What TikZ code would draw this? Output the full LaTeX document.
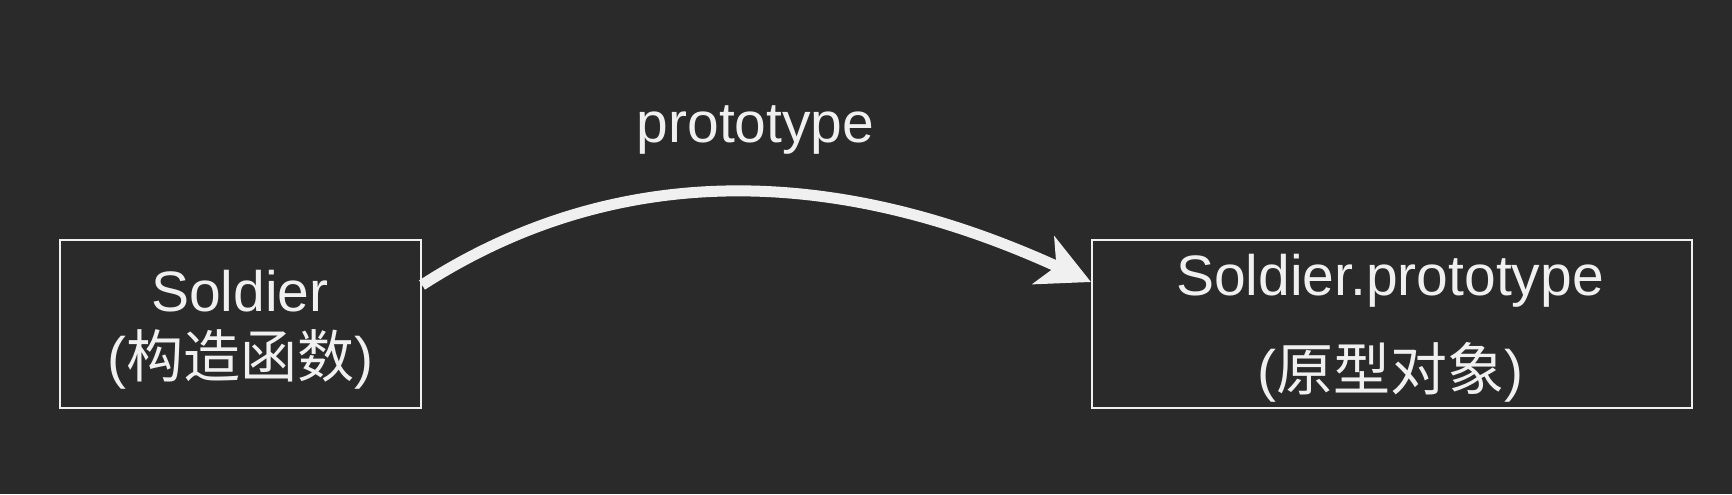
\documentclass[tikz,border=0pt]{standalone}
\usepackage{fontspec}
\setmainfont{Liberation Sans}
\newfontfamily\cjk{Noto Sans CJK SC}
\usetikzlibrary{arrows.meta}
\definecolor{bg}{HTML}{2A2A2A}
\definecolor{fg}{HTML}{F0F0F0}
\begin{document}
\begin{tikzpicture}[x=0.5pt,y=-0.5pt,
  box/.style={draw=fg, line width=1pt, inner sep=0pt, minimum height=84pt},
  lbl/.style={text=fg, inner sep=0pt, anchor=base, font=\fontsize{28.5pt}{34pt}\selectfont},
  conn/.style={draw=fg, line width=5.5pt, -{Stealth[length=26pt, width=26pt, inset=7pt]}}]
\fill[bg] (0,0) rectangle (1732,494);
\useasboundingbox (0,0) rectangle (1732,494);
\node[box, minimum width=180.5pt] (ctor) at (240.5,324) {};
\node[box, minimum width=300pt] (proto) at (1392,324) {};
\node[lbl] (ctorA) at (240,311) {Soldier};
\node[lbl] (ctorB) at (240,377) {({\cjk 构造函数})};
\node[lbl] (protoA) at (1390,295) {Soldier.prototype};
\node[lbl] (protoB) at (1390,390) {({\cjk 原型对象})};
\coordinate (s) at (ctor.east |- 0,285);
\coordinate (e) at (proto.west |- 0,282);
\draw[conn] (s) .. controls (606,166.5) and (822,159) .. (e);
\node[lbl] (edgelbl) at (755.5,142) {prototype};
\end{tikzpicture}
\end{document}
